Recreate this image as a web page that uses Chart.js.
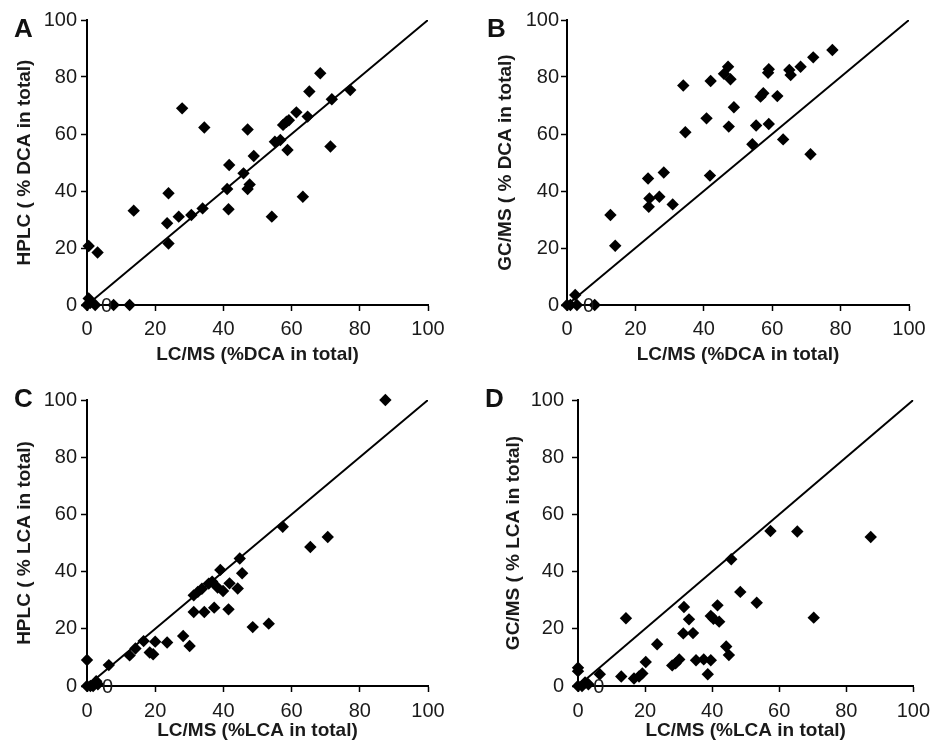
<!DOCTYPE html>
<html>
<head>
<meta charset="utf-8">
<script src="https://cdn.jsdelivr.net/npm/chart.js@4.4.0/dist/chart.umd.min.js"></script>
<style>
  body { margin: 0; background: #fff; }
  #wrap { position: relative; width: 937px; height: 746px; }
  .panel { position: absolute; }
  .tag { position: absolute; font: bold 26px "Liberation Sans", Arial, sans-serif; color: #111; line-height: 1; }
</style>
</head>
<body>
<div id="wrap">
  <canvas id="chartA" class="panel" width="467" height="373" style="left:0;top:0"></canvas>
  <canvas id="chartB" class="panel" width="470" height="373" style="left:467px;top:0"></canvas>
  <canvas id="chartC" class="panel" width="467" height="373" style="left:0;top:373px"></canvas>
  <canvas id="chartD" class="panel" width="470" height="373" style="left:467px;top:373px"></canvas>
  <div class="tag" style="left:14px;top:15px">A</div>
  <div class="tag" style="left:487px;top:15px">B</div>
  <div class="tag" style="left:14px;top:385px">C</div>
  <div class="tag" style="left:485px;top:385px">D</div>
</div>
<script>
const tickValues = [0, 20, 40, 60, 80, 100];
const identityLine = [0, 100];

// A: LC/MS vs HPLC, % DCA
const dcaLcmsA = [27.9, 34.4, 47.1, 68.4, 65.2, 77.2, 71.8, 61.4, 64.7, 58.5, 57.5, 59.2, 55.1, 56.7, 58.8, 71.4, 48.9, 41.7, 45.9, 47.7, 47.1, 41.1, 63.3, 23.9, 13.7, 33.9, 41.5, 30.6, 26.9, 54.2, 23.5, 23.9, 0.5, 3.1, 0, 0.5, 1, 2.4, 7.8, 12.5];
const dcaHplcA = [69.0, 62.3, 61.6, 81.3, 74.9, 75.4, 72.2, 67.6, 66.1, 64.3, 63.2, 64.8, 57.3, 57.9, 54.4, 55.6, 52.3, 49.1, 46.2, 42.3, 40.7, 40.7, 38.0, 39.2, 33.1, 33.9, 33.6, 31.6, 31.0, 31.0, 28.7, 21.6, 20.7, 18.4, 0, 2.3, 0.8, 0, 0, 0];

// B: LC/MS vs GC/MS, % DCA
const dcaLcmsB = [77.6, 72.0, 68.3, 65.0, 65.4, 59.0, 58.8, 47.1, 45.9, 47.8, 42.0, 34.0, 57.4, 56.6, 61.5, 48.8, 40.8, 47.3, 55.3, 59.0, 34.6, 63.2, 54.2, 71.2, 41.8, 28.3, 23.7, 24.1, 27.0, 23.9, 30.9, 12.7, 14.1, 2.4, 0, 1, 2.9, 8.1];
const dcaGcmsB = [89.5, 86.9, 83.6, 82.5, 80.7, 82.7, 81.5, 83.6, 81.1, 79.2, 78.6, 77.0, 74.3, 73.1, 73.3, 69.4, 65.5, 62.6, 63.0, 63.5, 60.6, 58.1, 56.4, 52.9, 45.4, 46.5, 44.4, 37.4, 38.0, 34.5, 35.3, 31.6, 20.8, 3.5, 0, 0, 0, 0];

// C: LC/MS vs HPLC, % LCA
const lcaLcmsC = [87.5, 57.4, 70.6, 65.5, 44.8, 39.1, 45.5, 36.7, 35.7, 41.8, 38.3, 33.7, 39.9, 44.2, 32.5, 31.3, 37.3, 41.5, 34.4, 31.3, 53.3, 48.6, 28.2, 30.1, 23.5, 20.0, 16.6, 14.2, 12.5, 18.4, 19.4, 6.4, 0, 2.7, 3.2, 0, 1, 1.8];
const lcaHplcC = [100, 55.7, 52.1, 48.6, 44.6, 40.6, 39.4, 36.5, 35.8, 35.9, 34.4, 34.0, 33.2, 34.1, 32.9, 31.7, 27.4, 26.8, 25.9, 25.9, 21.8, 20.6, 17.5, 14.0, 15.2, 15.5, 15.7, 13.1, 10.7, 11.7, 11.1, 7.3, 9.1, 1.7, 0.6, 0, 0, 0];

// D: LC/MS vs GC/MS, % LCA
const lcaLcmsD = [87.3, 65.4, 57.4, 45.7, 48.4, 53.3, 41.6, 31.6, 70.3, 14.3, 33.1, 39.6, 40.4, 42.1, 31.4, 34.3, 23.6, 44.2, 45.0, 35.2, 37.5, 39.6, 30.2, 29.1, 28.1, 20.2, 38.7, 19.2, 18.2, 16.7, 12.9, 6.5, 0, 0, 2.1, 3.1, 0, 1.2];
const lcaGcmsD = [52.1, 54.0, 54.2, 44.3, 32.9, 29.1, 28.2, 27.6, 23.9, 23.7, 23.3, 24.5, 23.5, 22.5, 18.4, 18.5, 14.6, 13.8, 10.8, 9.0, 9.3, 9.0, 9.3, 7.9, 7.2, 8.4, 4.1, 4.4, 3.3, 2.6, 3.3, 4.1, 6.4, 5.2, 1.2, 0.6, 0, 0];

// stray "0" label sitting on each x axis
const zeroLabelX = [5.7, 6.3, 6.0, 6.2];

const panels = [
  { id: 'chartA', xs: dcaLcmsA, ys: dcaHplcA, xTitle: 'LC/MS (%DCA in total)', yTitle: 'HPLC ( % DCA in total)',
    yW: 87, padR: 39, padT: 20, xH: 68, yTitlePad: 13, xTitlePad: 7, yTickPad: 4, xTickPad: 6 },
  { id: 'chartB', xs: dcaLcmsB, ys: dcaGcmsB, xTitle: 'LC/MS (%DCA in total)', yTitle: 'GC/MS ( % DCA in total)',
    yW: 100, padR: 28, padT: 20, xH: 68, yTitlePad: 27, xTitlePad: 7, yTickPad: 2, xTickPad: 6 },
  { id: 'chartC', xs: lcaLcmsC, ys: lcaHplcC, xTitle: 'LC/MS (%LCA in total)', yTitle: 'HPLC ( % LCA in total)',
    yW: 87, padR: 39, padT: 27, xH: 60, yTitlePad: 13, xTitlePad: 4, yTickPad: 4, xTickPad: 7 },
  { id: 'chartD', xs: lcaLcmsD, ys: lcaGcmsD, xTitle: 'LC/MS (%LCA in total)', yTitle: 'GC/MS ( % LCA in total)',
    yW: 111, padR: 17, padT: 27, xH: 60, yTitlePad: 35, xTitlePad: 4, yTickPad: 8, xTickPad: 7 }
];

const textColor = '#1a1a1a';
const tickFont = { family: '"Liberation Sans", Arial, sans-serif', size: 20 };
const titleFont = { family: '"Liberation Sans", Arial, sans-serif', size: 19, weight: 'bold' };

const zeroLabelPlugin = {
  id: 'zeroLabel',
  afterDatasetsDraw(chart, args, opts) {
    const { ctx, scales } = chart;
    ctx.save();
    ctx.font = '20px "Liberation Sans", Arial, sans-serif';
    ctx.fillStyle = textColor;
    ctx.textAlign = 'center';
    ctx.textBaseline = 'middle';
    ctx.fillText('0', scales.x.getPixelForValue(opts.at), scales.y.getPixelForValue(0) + 1);
    ctx.restore();
  }
};

function axis(p, horizontal) {
  return {
    type: 'linear',
    min: 0,
    max: 100,
    afterBuildTicks: s => { s.ticks = tickValues.map(v => ({ value: v })); },
    afterFit: s => {
      if (horizontal) s.height = p.xH; else s.width = p.yW;
    },
    border: { display: true, color: '#000', width: 2 },
    grid: { drawOnChartArea: false, drawTicks: true, tickLength: 6, tickColor: '#000', tickWidth: 1.5 },
    ticks: { color: textColor, font: tickFont, padding: horizontal ? p.xTickPad : p.yTickPad, maxRotation: 0 },
    title: {
      display: true,
      text: horizontal ? p.xTitle : p.yTitle,
      color: textColor,
      font: titleFont,
      padding: horizontal ? { top: 0, bottom: p.xTitlePad } : { top: p.yTitlePad, bottom: 0 }
    }
  };
}

panels.forEach((p, i) => {
  new Chart(document.getElementById(p.id), {
    type: 'scatter',
    data: {
      datasets: [
        {
          data: p.xs.map((x, k) => ({ x: x, y: p.ys[k] })),
          pointStyle: 'rectRot',
          pointRadius: 6.2,
          pointBackgroundColor: '#000',
          pointBorderColor: '#000',
          pointBorderWidth: 0,
          clip: false
        },
        {
          type: 'line',
          data: identityLine.map(v => ({ x: v, y: v })),
          borderColor: '#000',
          borderWidth: 2,
          pointRadius: 0,
          fill: false
        }
      ]
    },
    options: {
      responsive: false,
      animation: false,
      layout: { padding: { left: 0, right: p.padR, top: p.padT, bottom: 0 } },
      plugins: {
        legend: { display: false },
        tooltip: { enabled: false },
        zeroLabel: { at: zeroLabelX[i] }
      },
      scales: {
        x: axis(p, true),
        y: axis(p, false)
      }
    },
    plugins: [zeroLabelPlugin]
  });
});
</script>
</body>
</html>
